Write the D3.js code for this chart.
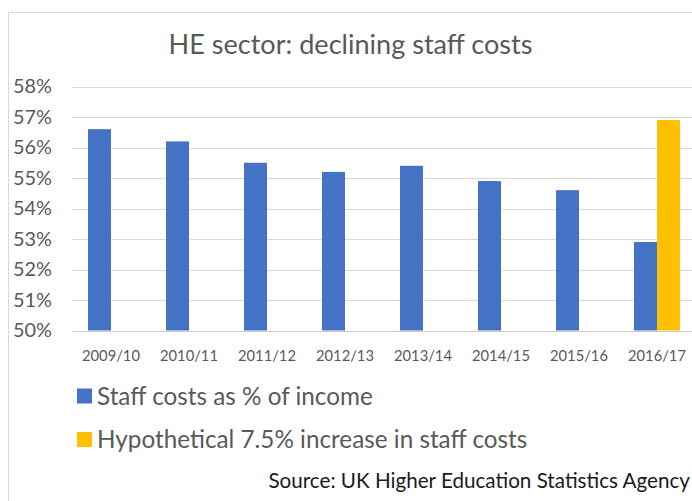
<!DOCTYPE html>
<html>
<head>
<meta charset="utf-8">
<script src="https://cdn.jsdelivr.net/npm/d3@7"></script>
<style>
  html, body { margin: 0; padding: 0; background: #fff; }
  svg { display: block; }
  text { font-family: Lato, "Open Sans", sans-serif; }
</style>
</head>
<body>
<svg id="chart" width="692" height="501"></svg>
<script>
// ---- data ----
const categories = ["2009/10", "2010/11", "2011/12", "2012/13", "2013/14", "2014/15", "2015/16", "2016/17"];
const staffCosts = [56.6, 56.2, 55.5, 55.2, 55.4, 54.9, 54.6, 52.9];
const hypothetical = [null, null, null, null, null, null, null, 56.9];
const seriesNames = ["Staff costs as % of income", "Hypothetical 7.5% increase in staff costs"];
const seriesColors = ["#4472C4", "#FFC000"];
const yTicks = [50, 51, 52, 53, 54, 55, 56, 57, 58];
const titleText = "HE sector: declining staff costs";
const sourceText = "Source: UK Higher Education Statistics Agency";

const svg = d3.select("#chart");
const W = 692, H = 501;
const textGray = "#595959";

svg.append("rect").attr("width", W).attr("height", H).attr("fill", "#fff");
// chart area border (extends past right/bottom edges, as cropped in the reference)
svg.append("rect").attr("x", 8.5).attr("y", 12.5).attr("width", 720).attr("height", 520)
  .attr("fill", "none").attr("stroke", "#d9d9d9").attr("stroke-width", 1);

// fit helper: scale font size so text width matches a target width
function fit(sel, target) {
  const base = parseFloat(sel.attr("font-size"));
  const w = sel.node().getComputedTextLength();
  const fs = base * target / w;
  sel.attr("font-size", fs);
  return fs;
}

// scales
const plotLeft = 72, step = 78;
const x = d3.scaleBand().domain(categories).range([plotLeft, plotLeft + step * categories.length]).padding(0);
const x1 = d3.scaleBand().domain([0, 1]).range([x.bandwidth() * 0.205, x.bandwidth() * 0.795]).padding(0);
const y = d3.scaleLinear().domain([50, 58]).range([330.5, 86.5]);

// gridlines
svg.append("g").selectAll("line").data(yTicks).join("line")
  .attr("x1", plotLeft).attr("x2", W)
  .attr("y1", d => Math.round(y(d)) + 0.5).attr("y2", d => Math.round(y(d)) + 0.5)
  .attr("stroke", d => d === 50 ? "#cfcfcf" : "#d9d9d9").attr("stroke-width", 1);

// y labels
const yl = svg.append("g").selectAll("text").data(yTicks).join("text")
  .attr("x", 52).attr("y", d => y(d)).attr("dy", "0.35em")
  .attr("text-anchor", "end").attr("fill", textGray).attr("font-size", 17)
  .text(d => d + "%");
const yfs = fit(d3.select(yl.nodes()[8]), 39);
yl.attr("font-size", yfs);

// bars
const rows = categories.map((c, i) => ({ cat: c, vals: [staffCosts[i], hypothetical[i]] }));
const g = svg.append("g").selectAll("g").data(rows).join("g")
  .attr("transform", d => `translate(${x(d.cat)},0)`);
g.selectAll("rect").data(d => d.vals.map((v, k) => ({ v, k })).filter(e => e.v != null)).join("rect")
  .attr("x", e => x1(e.k)).attr("width", x1.bandwidth())
  .attr("y", e => y(e.v)).attr("height", e => y(50) - y(e.v))
  .attr("fill", e => seriesColors[e.k]);

// x labels
const xl = svg.append("g").selectAll("text").data(categories).join("text")
  .attr("x", d => x(d) + x.bandwidth() / 2).attr("y", 356).attr("dy", "0.35em")
  .attr("text-anchor", "middle").attr("fill", textGray).attr("font-size", 15)
  .text(d => d);
const xfs = fit(d3.select(xl.nodes()[0]), 58);
xl.attr("font-size", xfs);

// title
const t = svg.append("text").attr("x", 350.5).attr("y", 54.3)
  .attr("text-anchor", "middle").attr("fill", textGray).attr("font-size", 24)
  .text(titleText);
fit(t, 364);

// legend
const legendY = [396, 439.5];
const lg = svg.append("g").selectAll("g").data(seriesNames).join("g");
lg.append("rect").attr("x", 77).attr("y", (d, i) => legendY[i] - 7.5)
  .attr("width", 15).attr("height", 15).attr("fill", (d, i) => seriesColors[i]);
const lt = lg.append("text").attr("x", 97).attr("y", (d, i) => legendY[i]).attr("dy", "0.35em")
  .attr("fill", textGray).attr("font-size", 20).text(d => d);
const lfs = fit(d3.select(lt.nodes()[0]), 276);
lt.attr("font-size", lfs);

// source
const s = svg.append("text").attr("x", 690).attr("y", 488)
  .attr("text-anchor", "end").attr("fill", "#1a1a1a").attr("font-size", 19)
  .text(sourceText);
fit(s, 422);
</script>
</body>
</html>
